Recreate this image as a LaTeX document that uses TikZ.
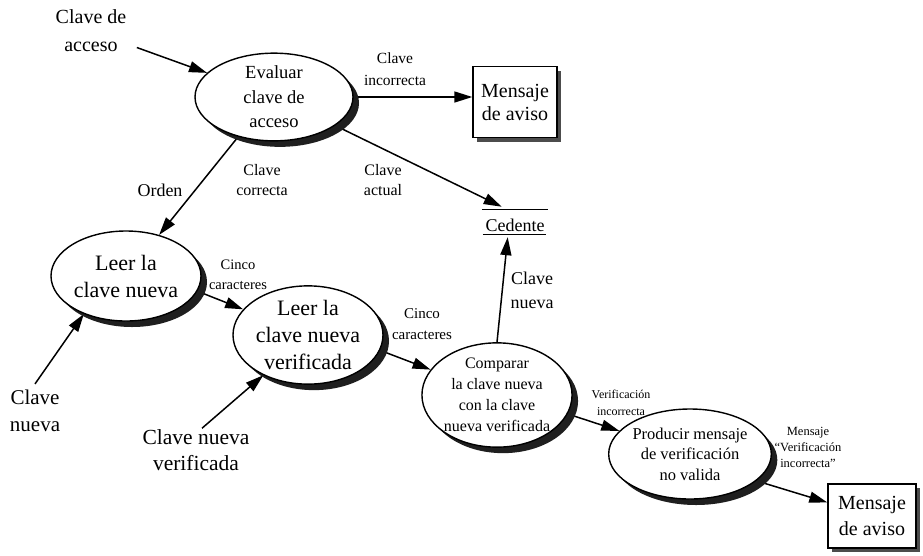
\documentclass[tikz,border=0pt]{standalone}
\usepackage{fontspec}
\setmainfont{Liberation Serif}
\usetikzlibrary{arrows.meta,shapes.geometric,shadows,backgrounds}

\newcommand{\fs}[2]{\fontsize{#1}{#2}\selectfont}

\begin{document}
\begin{tikzpicture}[x=1pt,y=-1pt,
  proc/.style={ellipse, draw, line width=1.4pt, fill=white, inner sep=0pt, align=center,
    drop shadow={shadow xshift=6pt, shadow yshift=-6pt, fill=black!88, opacity=1}},
  extent/.style={rectangle, draw, line width=1.4pt, fill=white, inner sep=0pt, align=center,
    drop shadow={shadow xshift=4pt, shadow yshift=-4pt, fill=black!70, opacity=1}},
  txt/.style={align=center, inner sep=1pt},
  flow/.style={line width=1.5pt, -{Triangle[length=18pt,width=11pt]}},
]
\useasboundingbox (0,0) rectangle (923,555);

% processes
\node[proc, minimum width=158pt, minimum height=86pt, font=\fs{18.5}{24.5}] (eval) at (274,97)
  {Evaluar\\clave de\\acceso};
\node[proc, minimum width=150pt, minimum height=90pt, font=\fs{22}{27}] (leer1) at (126,276)
  {Leer la\\clave nueva};
\node[proc, minimum width=150pt, minimum height=92pt, font=\fs{22}{27}] (leer2) at (308,335)
  {Leer la\\clave nueva\\verificada};
\node[proc, minimum width=150pt, minimum height=90pt, font=\fs{16}{21}] (comp) at (497,395)
  {Comparar\\la clave nueva\\con la clave\\nueva verificada};
\node[proc, minimum width=142pt, minimum height=90pt, font=\fs{16.5}{20.5}] (prod) at (690,454)
  {Producir mensaje\\de verificación\\no valida};

% external entities
\node[extent, minimum width=84pt, minimum height=71pt, font=\fs{20}{23}] (box1) at (515,102)
  {Mensaje\\de aviso};
\node[extent, minimum width=88pt, minimum height=64pt, font=\fs{20}{26}] (box2) at (872,516)
  {Mensaje\\de aviso};

% data store
\node[inner sep=0pt, minimum width=66pt, minimum height=24pt, text height=18pt, text depth=0pt,
  font=\fs{18}{22}] (ced) at (515,222) {Cedente};
\draw[line width=1.2pt] (ced.north west) -- (ced.north east);
\draw[line width=1.2pt] ([xshift=1pt]ced.south west) -- ([xshift=-2pt]ced.south east);

% free flow ends
\node[txt, font=\fs{20}{28}] (acc) at (91,31) {Clave de\\acceso};
\node[txt, font=\fs{21}{27}] (cn) at (35,411) {Clave\\nueva};
\node[txt, font=\fs{21.5}{26}] (cnv) at (196,450) {Clave nueva\\verificada};

% flow labels
\node[txt, font=\fs{15.5}{22}] (lInc) at (395,69) {Clave\\incorrecta};
\node[txt, font=\fs{18}{22}] (lOrd) at (160,190) {Orden};
\node[txt, font=\fs{16}{20}] (lCor) at (262,180) {Clave\\correcta};
\node[txt, font=\fs{16}{20}] (lAct) at (383,180) {Clave\\actual};
\node[txt, font=\fs{14.5}{20}] (lCin1) at (238,275) {Cinco\\caracteres};
\node[txt, font=\fs{15}{21}] (lCin2) at (422,324) {Cinco\\caracteres};
\node[txt, font=\fs{18}{24}] (lNue) at (532,290) {Clave\\nueva};
\node[txt, font=\fs{12}{17}] (lVer) at (621,403) {Verificación\\incorrecta};
\node[txt, font=\fs{12.5}{16}] (lMsg) at (808,447) {Mensaje\\“Verificación\\incorrecta”};

% flows, kept under the shapes so they leave from the shadow edge
\begin{scope}[on background layer]
  \fill[white] (0,0) rectangle (923,555);
  \draw[flow, shorten <=10pt] (acc) -- (eval);
  \draw[flow] (eval.east) -- (eval.east -| box1.west);
  \draw[flow] (eval.228) -- (leer1);
  \draw[flow, shorten >=7pt] (eval.-25) -- ([xshift=-7pt]ced.north);
  \draw[flow] ([yshift=5pt]cn.north) -- (leer1.222);
  \draw[flow] (leer1.-12) -- (leer2);
  \draw[flow] ([xshift=6pt]cnv.north) -- (leer2.222);
  \draw[flow] (leer2.-12) -- (comp);
  \draw[flow, shorten >=3pt] (comp.north) -- ([xshift=-7pt]ced.south);
  \draw[flow] (comp.-15) -- (prod);
  \draw[flow] (prod.-22) -- (box2);
\end{scope}
\end{tikzpicture}
\end{document}
